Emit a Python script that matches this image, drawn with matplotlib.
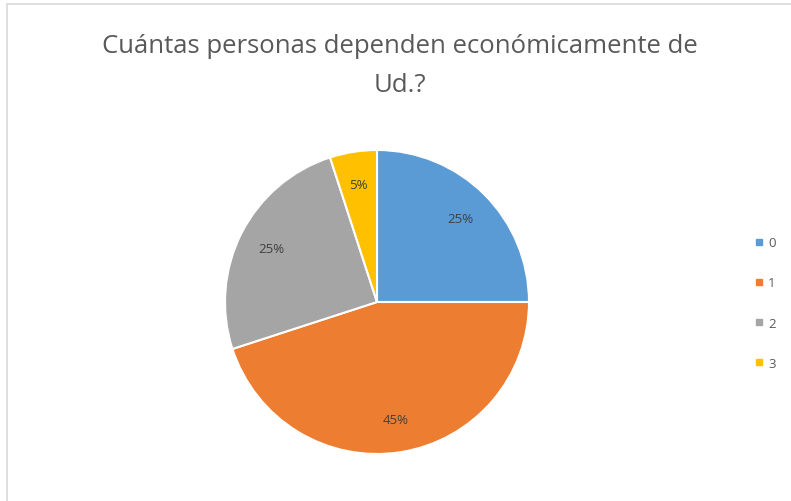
import matplotlib
matplotlib.use("Agg")
import matplotlib.pyplot as plt
from matplotlib.patches import Rectangle
from matplotlib.lines import Line2D

categories = ["0", "1", "2", "3"]
values = [25, 45, 25, 5]
colors = ["#5B9BD5", "#ED7D31", "#A5A5A5", "#FFC000"]
title = "Cuántas personas dependen económicamente de\nUd.?"

W, H = 791, 502
fig = plt.figure(figsize=(W / 100, H / 100), dpi=100)
fig.patch.set_facecolor("white")

# chart border
fig.add_artist(Rectangle((7 / W, -0.1), 1.2, 1 - 5 / H + 0.1, transform=fig.transFigure,
                         fill=False, edgecolor="#D9D9D9", linewidth=1.2))

cx, cy, r = 377, 303, 152
ax = fig.add_axes([(cx - r) / W, (H - cy - r) / H, 2 * r / W, 2 * r / H])
wedges, texts, autotexts = ax.pie(
    values, colors=colors, startangle=90, counterclock=False,
    autopct="%1.0f%%", pctdistance=0.78,
    wedgeprops=dict(edgecolor="white", linewidth=1.5),
    textprops=dict(color="#404040", fontsize=9.5, family="Open Sans"))
ax.set_xlim(-1, 1)
ax.set_ylim(-1, 1)
ax.set_aspect("auto")
ax.axis("off")

fig.text(400 / W, 1 - 66 / H, title, ha="center", va="center", fontsize=18.5,
         color="#595959", family="Open Sans", linespacing=1.75)

handles = [Line2D([], [], marker="s", linestyle="none", markersize=4,
                  markerfacecolor=c, markeredgecolor=c) for c in colors]
fig.legend(handles, categories, loc="center left", bbox_to_anchor=(743 / W, 1 - 304 / H),
           frameon=False, labelspacing=2.05, handlelength=0.6,
           handletextpad=0.4, labelcolor="#595959", prop=dict(family="Open Sans", size=9.5))

fig.savefig("out.png", dpi=100)
